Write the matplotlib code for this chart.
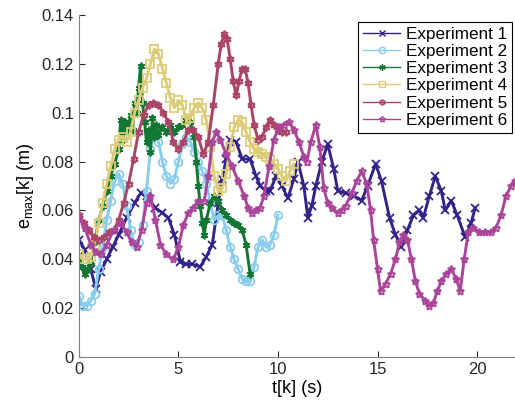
import numpy as np
import matplotlib
matplotlib.use("Agg")
import matplotlib.pyplot as plt
from matplotlib.ticker import FormatStrFormatter

plt.rcParams['font.family'] = ['Liberation Sans', 'DejaVu Sans']
plt.rcParams['mathtext.fontset'] = 'custom'
plt.rcParams['mathtext.rm'] = 'Liberation Sans'
plt.rcParams['mathtext.it'] = 'Liberation Sans'

# experiment 1
t1 = [0, 0.3, 0.6, 0.85, 1.1, 1.4, 1.7, 2.0, 2.4, 2.8, 3.1, 3.4, 3.85, 4.2, 4.5, 4.8, 5.1, 5.4,
      5.7, 6.1, 6.4, 6.7, 7.0, 7.2, 7.4, 7.6, 7.9, 8.2, 8.6, 8.9, 9.1, 9.4, 9.6, 9.9, 10.2, 10.5,
      10.8, 11.0, 11.3, 11.5, 11.7, 11.9, 12.2, 12.5, 12.8, 13.0, 13.4, 13.8, 14.2, 14.5, 14.9,
      15.2, 15.6, 15.9, 16.2, 16.5, 16.8, 17.1, 17.3, 17.6, 17.9, 18.2, 18.4, 18.7, 19.0, 19.4,
      19.7, 19.9]
e1 = [0.048, 0.044, 0.036, 0.028, 0.035, 0.040, 0.045, 0.050, 0.057, 0.063, 0.067, 0.066, 0.061,
      0.059, 0.057, 0.050, 0.039, 0.038, 0.038, 0.037, 0.041, 0.046, 0.063, 0.073, 0.081, 0.089,
      0.088, 0.081, 0.081, 0.074, 0.070, 0.068, 0.068, 0.074, 0.070, 0.065, 0.073, 0.080, 0.070,
      0.057, 0.062, 0.070, 0.080, 0.087, 0.077, 0.068, 0.067, 0.066, 0.064, 0.070, 0.079, 0.072,
      0.057, 0.050, 0.045, 0.052, 0.058, 0.060, 0.057, 0.066, 0.074, 0.068, 0.060, 0.064, 0.058,
      0.049, 0.055, 0.061]

# experiment 2
t2 = [0, 0.2, 0.4, 0.6, 0.8, 1.0, 1.2, 1.4, 1.6, 1.8, 2.0, 2.2, 2.4, 2.6, 2.8, 3.0, 3.2, 3.4,
      3.6, 3.8, 4.0, 4.2, 4.4, 4.6, 4.8, 5.0, 5.2, 5.4, 5.6, 5.8, 6.0, 6.2, 6.4, 6.6, 6.8, 7.0,
      7.2, 7.4, 7.6, 7.8, 8.0, 8.2, 8.4, 8.6, 8.8, 9.0, 9.2, 9.4, 9.6, 9.8, 10.0]
e2 = [0.025, 0.021, 0.021, 0.023, 0.026, 0.036, 0.045, 0.056, 0.064, 0.072, 0.075, 0.071, 0.062,
      0.052, 0.046, 0.047, 0.054, 0.068, 0.085, 0.092, 0.088, 0.080, 0.074, 0.071, 0.073, 0.080,
      0.087, 0.090, 0.088, 0.084, 0.080, 0.076, 0.071, 0.063, 0.056, 0.058, 0.058, 0.052, 0.045,
      0.040, 0.036, 0.032, 0.031, 0.031, 0.037, 0.045, 0.048, 0.045, 0.046, 0.050, 0.058]

# experiment 3
t3 = [0, 0.15, 0.3, 0.45, 0.6, 0.8, 1.0, 1.2, 1.4, 1.6, 1.8, 2.0, 2.1, 2.2, 2.3, 2.4, 2.5, 2.6,
      2.7, 2.8, 2.9, 3.0, 3.1, 3.2, 3.3, 3.4, 3.5, 3.6, 3.7, 3.8, 3.9, 4.0, 4.2, 4.4, 4.6, 4.8,
      5.0, 5.2, 5.4, 5.6, 5.8, 5.9, 6.0, 6.1, 6.2, 6.3, 6.4, 6.6, 6.8, 7.0, 7.2, 7.4, 7.6, 7.8,
      8.0, 8.2, 8.4, 8.6]
e3 = [0.040, 0.037, 0.034, 0.036, 0.039, 0.047, 0.056, 0.062, 0.068, 0.074, 0.079, 0.085, 0.097,
      0.089, 0.096, 0.092, 0.095, 0.099, 0.093, 0.104, 0.100, 0.110, 0.119, 0.104, 0.096, 0.088,
      0.093, 0.084, 0.098, 0.090, 0.095, 0.091, 0.094, 0.092, 0.095, 0.092, 0.094, 0.095, 0.097,
      0.096, 0.090, 0.080, 0.070, 0.062, 0.055, 0.050, 0.056, 0.063, 0.066, 0.064, 0.060, 0.058,
      0.056, 0.055, 0.054, 0.052, 0.046, 0.034]

# experiment 4
t4 = [0, 0.2, 0.4, 0.6, 0.8, 1.0, 1.2, 1.4, 1.6, 1.8, 2.0, 2.2, 2.4, 2.6, 2.8, 3.0, 3.2, 3.4,
      3.6, 3.8, 4.0, 4.2, 4.4, 4.6, 4.8, 5.0, 5.2, 5.4, 5.6, 5.8, 6.0, 6.2, 6.4, 6.6, 6.8, 7.0,
      7.2, 7.4, 7.6, 7.8, 8.0, 8.2, 8.4, 8.6, 8.8, 9.0, 9.2, 9.4, 9.6, 9.8, 10.0, 10.2, 10.4,
      10.6, 10.8]
e4 = [0.042, 0.040, 0.040, 0.041, 0.046, 0.055, 0.063, 0.071, 0.078, 0.085, 0.089, 0.090, 0.088,
      0.092, 0.100, 0.105, 0.110, 0.114, 0.120, 0.126, 0.124, 0.118, 0.112, 0.106, 0.102, 0.105,
      0.103, 0.097, 0.098, 0.102, 0.104, 0.102, 0.097, 0.086, 0.074, 0.068, 0.069, 0.075, 0.086,
      0.094, 0.097, 0.096, 0.092, 0.088, 0.085, 0.084, 0.083, 0.082, 0.081, 0.079, 0.077, 0.074,
      0.072, 0.076, 0.079]

# experiment 5
t5 = [0, 0.25, 0.5, 0.75, 1.0, 1.25, 1.5, 1.75, 2.0, 2.25, 2.5, 2.75, 3.0, 3.25, 3.5, 3.75, 4.0,
      4.25, 4.5, 4.75, 5.0, 5.25, 5.5, 5.75, 6.0, 6.25, 6.5, 6.75, 7.0, 7.15, 7.3, 7.45, 7.6,
      7.75, 7.9, 8.05, 8.2, 8.35, 8.5, 8.65, 8.8, 9.0, 9.2, 9.4, 9.6, 9.8, 10.0, 10.2, 10.4]
e5 = [0.058, 0.055, 0.052, 0.049, 0.048, 0.049, 0.051, 0.052, 0.056, 0.063, 0.071, 0.081, 0.092,
      0.099, 0.103, 0.104, 0.103, 0.100, 0.096, 0.088, 0.085, 0.088, 0.093, 0.093, 0.090, 0.083,
      0.088, 0.103, 0.120, 0.128, 0.132, 0.130, 0.122, 0.113, 0.107, 0.113, 0.118, 0.118, 0.112,
      0.103, 0.095, 0.089, 0.090, 0.094, 0.097, 0.095, 0.093, 0.092, 0.092]

# experiment 6
t6 = [0, 0.3, 0.6, 0.85, 1.1, 1.4, 1.75, 2.1, 2.4, 2.65, 2.9, 3.15, 3.4, 3.6, 3.85, 4.1, 4.4,
      4.75, 5.0, 5.25, 5.5, 5.75, 6.0, 6.3, 6.5, 6.7, 6.9, 7.1, 7.4, 7.7, 8.0, 8.3, 8.5, 8.7,
      8.9, 9.1, 9.3, 9.55, 9.8, 10.05, 10.3, 10.55, 10.8, 11.05, 11.3, 11.45, 11.65, 11.9, 12.1,
      12.3, 12.5, 12.7, 13.0, 13.2, 13.4, 13.7, 13.95, 14.2, 14.45, 14.65, 14.8, 15.0, 15.15,
      15.4, 15.65, 15.9, 16.1, 16.3, 16.5, 16.7, 16.9, 17.1, 17.4, 17.6, 17.8, 18.0, 18.2, 18.45,
      18.7, 18.95, 19.15, 19.35, 19.55, 19.8, 20.1, 20.4, 20.7, 20.95, 21.2, 21.45, 21.7, 21.9]
e6 = [0.057, 0.053, 0.046, 0.043, 0.042, 0.046, 0.052, 0.055, 0.051, 0.047, 0.045, 0.052, 0.063,
      0.066, 0.056, 0.046, 0.042, 0.040, 0.045, 0.054, 0.059, 0.061, 0.064, 0.064, 0.074, 0.088,
      0.092, 0.089, 0.083, 0.078, 0.072, 0.066, 0.061, 0.059, 0.060, 0.061, 0.066, 0.078, 0.089,
      0.094, 0.095, 0.096, 0.093, 0.088, 0.082, 0.080, 0.088, 0.095, 0.086, 0.069, 0.063, 0.061,
      0.059, 0.060, 0.062, 0.067, 0.072, 0.076, 0.071, 0.060, 0.048, 0.036, 0.027, 0.030, 0.034,
      0.040, 0.047, 0.050, 0.048, 0.040, 0.031, 0.026, 0.023, 0.021, 0.022, 0.027, 0.031, 0.034,
      0.036, 0.032, 0.027, 0.040, 0.051, 0.053, 0.051, 0.051, 0.051, 0.053, 0.058, 0.066, 0.070,
      0.072]

names = ['Experiment 1', 'Experiment 2', 'Experiment 3', 'Experiment 4', 'Experiment 5', 'Experiment 6']
colors = ['#332288', '#88CCEE', '#117733', '#DDCC77', '#AA4466', '#AA4499']
markers = ['x', 'o', (6, 2, 0), 's', (6, 1, 0), (5, 1, 0)]

fig = plt.figure(figsize=(5.15, 4.11), dpi=100)
ax = fig.add_axes([0.153, 0.131, 0.847, 0.833])

series = [(t1, e1), (t2, e2), (t3, e3), (t4, e4), (t5, e5), (t6, e6)]
for i, (t, e) in enumerate(series):
    ax.plot(t, e, color=colors[i], marker=markers[i], markersize=5.5, markerfacecolor='none',
            markeredgewidth=1.3, linewidth=2.1, label=names[i])

ax.set_xlim(0, 21.9)
ax.set_ylim(0, 0.14)
ax.set_xticks([0, 5, 10, 15, 20])
ax.set_yticks([0, 0.02, 0.04, 0.06, 0.08, 0.1, 0.12, 0.14])
ax.yaxis.set_major_formatter(FormatStrFormatter('%g'))
ax.tick_params(direction='in', length=4, labelsize=12, colors='#262626')
ax.spines['top'].set_visible(False)
ax.spines['right'].set_visible(False)
ax.spines['left'].set_color('#808080')
ax.spines['bottom'].set_color('#808080')

ax.set_xlabel('t[k] (s)', fontsize=13, labelpad=2)
ax.set_ylabel(r'e$_{\mathregular{max}}$[k] (m)', fontsize=13, labelpad=4)

leg = ax.legend(loc='upper right', bbox_to_anchor=(0.993, 0.98), fontsize=12.3,
                fancybox=False, edgecolor='black', framealpha=1, handlelength=2.2,
                borderpad=0.3, labelspacing=0.13, handletextpad=0.3, borderaxespad=0)
leg.get_frame().set_linewidth(0.8)
for line in leg.get_lines():
    line.set_linewidth(1.0)
    line.set_markersize(4.5)
    line.set_markeredgewidth(1.0)

fig.savefig('out.png', dpi=100)
